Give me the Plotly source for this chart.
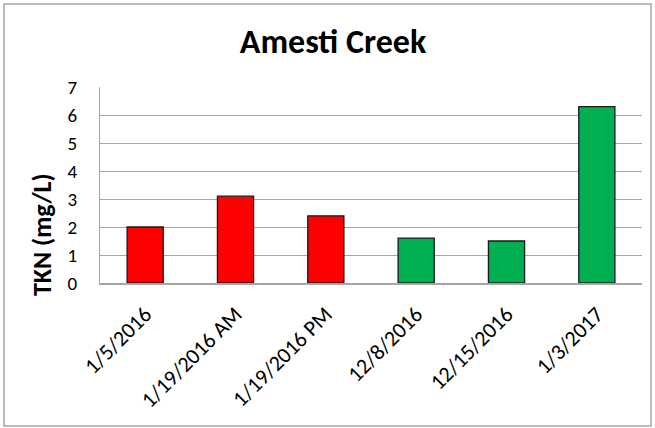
import plotly.graph_objects as go

# sample dates and TKN readings
dates = ["1/5/2016", "1/19/2016 AM", "1/19/2016 PM", "12/8/2016", "12/15/2016", "1/3/2017"]
tkn = [2.0, 3.1, 2.4, 1.6, 1.5, 6.3]
bar_colors = ["#FF0000", "#FF0000", "#FF0000", "#00B050", "#00B050", "#00B050"]
y_ticks = [0, 1, 2, 3, 4, 5, 6, 7]

W, H = 655, 428
L, R, T, B = 100, 13, 87, 145
font = "Calibri, Carlito, Lato, sans-serif"

fig = go.Figure()
fig.add_trace(go.Bar(
    x=dates, y=tkn,
    marker=dict(color=bar_colors, line=dict(color="#1a1a1a", width=1.3)),
    width=0.4,
))

# pixel -> paper helpers
pw, ph = W - L - R, H - T - B
px = lambda v: (v - L) / pw
py = lambda v: (H - B - v) / ph

# outer chart border
fig.add_shape(type="rect", xref="paper", yref="paper",
              x0=px(4), x1=px(651), y0=py(426), y1=py(4),
              line=dict(color="#a6a6a6", width=1.5), fillcolor="rgba(0,0,0,0)", layer="below")

# y axis title, placed by hand like the excel original
fig.add_annotation(text="<b>TKN (mg/L)</b>", xref="paper", yref="paper",
                   x=px(42), y=py(235), xanchor="center", yanchor="middle",
                   textangle=-90, showarrow=False,
                   font=dict(family=font, size=26, color="black"))

fig.update_layout(
    width=W, height=H,
    margin=dict(l=L, r=R, t=T, b=B, autoexpand=False),
    paper_bgcolor="white", plot_bgcolor="white",
    showlegend=False,
    title=dict(text="<b>Amesti Creek</b>", x=333 / W, xanchor="center",
               y=1 - 41 / H, yanchor="middle",
               font=dict(family=font, size=34, color="black")),
    font=dict(family=font, color="black"),
)
fig.update_xaxes(
    tickangle=-45, tickfont=dict(size=22), showgrid=False, automargin=False,
    showline=True, linecolor="#a6a6a6", linewidth=1.5, ticks="", ticklabelstandoff=8,
)
fig.update_yaxes(
    range=[0, 7], tickvals=y_ticks, tickfont=dict(size=19), automargin=False,
    showgrid=True, gridcolor="#a6a6a6", gridwidth=1.3,
    showline=True, linecolor="#a6a6a6", linewidth=1.3, ticks="",
    zeroline=False, ticklabelstandoff=18,
)

fig.write_html("out.html", config={"displayModeBar": False},
               post_script="document.body.style.margin='0';document.body.style.overflow='hidden';")
